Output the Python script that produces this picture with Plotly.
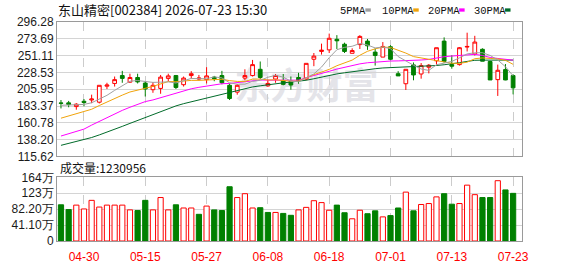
import plotly.graph_objects as go

dates = ["04-27","04-28","04-29","04-30","05-06","05-07","05-08","05-11","05-12","05-13",
         "05-14","05-15","05-18","05-19","05-20","05-21","05-22","05-25","05-26","05-27",
         "05-28","05-29","06-01","06-02","06-03","06-04","06-05","06-08","06-09","06-10",
         "06-11","06-12","06-15","06-16","06-17","06-18","06-22","06-23","06-24","06-25",
         "06-26","06-29","06-30","07-01","07-02","07-03","07-06","07-07","07-08","07-09",
         "07-10","07-13","07-14","07-15","07-16","07-17","07-20","07-21","07-22","07-23"]

opens = [187.5,187.6,182.6,189.7,191.4,188.5,210.0,213.7,224.3,215.4,
         221.7,214.2,205.3,207.0,220.5,224.3,212.0,224.3,219.6,218.8,
         222.2,224.3,211.2,202.0,220.9,224.3,232.7,210.4,219.6,217.5,
         216.7,221.7,219.6,246.2,256.7,258.8,273.0,266.4,254.2,265.9,
         270.6,255.8,249.1,263.0,226.8,213.3,238.6,226.4,235.5,244.1,
         270.6,239.0,239.0,262.6,253.3,259.6,243.2,218.8,232.3,224.3]
highs = [191.4,190.2,187.2,192.7,198.6,211.2,214.6,223.0,230.6,226.8,
         226.8,216.7,215.4,225.1,226.8,225.1,223.0,230.2,225.1,235.6,
         223.8,230.6,213.7,212.9,232.7,245.3,243.2,218.8,226.4,226.4,
         223.0,228.0,240.7,254.6,267.2,280.7,278.6,268.5,260.9,278.6,
         273.5,260.9,269.3,265.1,230.2,232.7,241.9,241.1,239.8,261.7,
         275.6,251.6,262.6,281.9,277.7,260.9,244.1,239.0,239.8,226.0]
lows = [180.1,181.7,178.4,183.0,187.2,186.8,206.2,209.5,214.6,214.6,
        213.7,196.1,201.1,199.8,216.7,206.2,209.5,220.1,217.5,213.7,
        216.7,212.5,191.4,198.6,217.9,223.0,219.6,209.1,214.6,211.2,
        205.3,213.3,217.9,236.9,252.5,254.6,260.0,254.6,254.2,260.0,
        258.8,237.7,249.1,244.9,223.8,204.9,217.9,220.1,227.2,239.0,
        241.5,233.5,237.7,256.7,251.2,243.6,218.4,196.9,218.0,199.0]
closes = [187.0,185.5,185.8,188.0,192.7,211.2,211.6,218.8,220.5,221.7,
          215.8,206.2,211.2,222.2,223.8,208.3,220.9,226.8,220.9,223.8,
          220.1,214.6,193.5,211.2,224.3,239.0,221.7,213.7,224.3,212.5,
          211.6,217.5,240.7,250.4,258.4,274.4,271.0,256.7,257.9,276.9,
          264.3,251.2,263.4,246.2,223.8,232.7,225.1,237.7,238.2,261.7,
          243.2,236.9,261.7,263.4,269.3,243.6,218.4,231.4,218.4,207.8]

# volume, in 万
volumes = [93.5,81.2,92.7,82.8,105.0,87.7,92.7,92.7,92.7,80.4,
           78.7,105.0,80.4,112.3,80.4,93.5,85.3,85.3,68.9,90.2,
           80.4,78.7,140.2,112.3,122.2,85.3,86.1,73.8,73.8,71.3,
           66.4,80.4,86.9,104.1,99.2,79.5,92.7,73.0,57.4,79.5,
           70.5,77.9,62.3,65.6,85.3,126.3,77.9,94.3,96.8,114.0,
           122.2,95.1,96.8,144.3,119.7,112.3,112.3,155.8,132.0,123.1]

ma5 = [184.3,184.7,185.1,185.5,187.7,192.6,197.7,204.4,210.9,216.7,
       217.6,216.6,215.1,215.4,215.8,214.3,217.3,220.4,220.1,220.1,
       222.5,221.2,214.6,212.6,212.7,216.5,217.9,222.0,224.6,222.2,
       216.8,215.9,221.3,226.5,235.7,248.3,259.0,262.2,263.7,267.4,
       265.4,261.4,262.7,260.4,249.8,243.5,238.2,233.1,231.2,238.8,
       240.9,243.3,248.1,253.4,254.9,255.0,251.3,245.2,236.2,223.9]
ma10 = [167.0,170.0,173.0,176.0,179.0,184.0,189.0,194.0,198.0,202.2,
        205.1,207.2,209.8,213.2,216.3,216.0,217.0,217.8,217.8,218.0,
        218.4,219.3,217.5,216.4,216.4,219.5,219.6,218.3,218.6,217.5,
        216.7,216.9,221.7,225.6,229.0,232.6,237.5,241.8,245.1,251.6,
        256.9,260.2,262.5,262.1,258.6,254.5,249.8,247.9,245.8,244.3,
        242.2,240.8,240.6,242.3,246.9,248.0,247.3,246.7,244.8,239.4]
ma20 = [143.0,146.0,149.3,152.3,157.7,162.8,168.3,173.3,177.5,181.7,
        185.9,189.3,191.5,194.5,198.0,201.5,204.0,206.5,208.5,210.1,
        211.8,213.3,213.7,214.8,216.4,217.8,218.3,218.1,218.2,217.8,
        217.6,218.1,221.5,224.0,227.0,230.0,233.0,235.5,238.0,240.0,
        241.5,242.5,243.2,243.8,244.0,244.2,244.5,245.2,246.0,248.0,
        249.6,250.5,251.6,252.2,252.8,251.3,248.6,247.3,245.8,245.0]
ma30 = [130.5,133.0,135.5,138.0,141.0,144.5,148.0,152.0,156.0,160.0,
        164.0,168.0,172.0,176.0,180.0,183.5,186.5,189.0,191.5,194.0,
        197.0,200.0,202.5,205.0,207.0,209.0,210.5,212.0,213.5,214.5,
        215.5,216.5,218.0,220.0,222.5,224.5,226.5,228.0,229.5,231.0,
        232.5,233.5,234.5,235.0,235.0,235.2,235.5,236.0,236.5,237.8,
        238.8,239.8,241.6,243.3,244.8,245.0,245.0,245.5,245.2,245.1]

price_ticks = [115.62,138.20,160.78,183.37,205.95,228.53,251.11,273.69,296.28]
vol_ticks = [0,41.1,82.2,123.3,164.4]
vol_tick_text = ["0","41.10万","82.20万","123万","164万"]
date_ticks = ["04-30","05-15","05-27","06-08","06-18","07-01","07-13","07-23"]
ma_names = ["5PMA","10PMA","20PMA","30PMA"]
ma_colors = ["#a0a0a0","#f0a30a","#ff00ff","#006b2a"]

title_text = "东山精密[002384] 2026-07-23 15:30"
vol_label = "成交量:1230956"

RED = "#ff0000"
GREEN = "#008000"

W, H = 578, 276
ML, MR, MT, MB = 56, 56, 22, 21
PW, PH = W - ML - MR, H - MT - MB


def px(xp):
    return (xp - ML) / PW


def py(yp):
    return (H - MB - yp) / PH


fig = go.Figure()

for name, ma, col in zip(ma_names[::-1], [ma30, ma20, ma10, ma5], ma_colors[::-1]):
    fig.add_trace(go.Scatter(x=dates, y=ma, mode="lines", line=dict(color=col, width=1),
                             name=name, xaxis="x", yaxis="y", hoverinfo="skip"))

fig.add_trace(go.Candlestick(
    x=dates, open=opens, high=highs, low=lows, close=closes,
    increasing=dict(line=dict(color=RED, width=1), fillcolor="#ffffff"),
    decreasing=dict(line=dict(color=GREEN, width=1), fillcolor=GREEN),
    whiskerwidth=0, xaxis="x", yaxis="y", name="K"))

fill_cols, line_cols = [], []
for i, c in enumerate(closes):
    ref = closes[i - 1] if i > 0 else opens[0]
    up = c >= ref
    fill_cols.append("#ffffff" if up else GREEN)
    line_cols.append(RED if up else GREEN)

fig.add_trace(go.Bar(x=dates, y=volumes, width=0.68,
                     marker=dict(color=fill_cols, line=dict(color=line_cols, width=1)),
                     xaxis="x2", yaxis="y2", name="VOL"))

grid_col = "#d4d4d4"
border_col = "#9a9a9a"
tick_font = dict(family="Liberation Sans, Arial", size=12, color="#1a1a1a")

common_x = dict(type="category", range=[-0.52, 60.16], tickmode="array", tickvals=date_ticks,
                showgrid=True, gridcolor="#cccccc", griddash="dash", gridwidth=1,
                showline=True, mirror=True, linecolor=border_col, linewidth=1,
                ticks="", zeroline=False, fixedrange=True)

fig.update_layout(
    width=W, height=H,
    margin=dict(l=ML, r=MR, t=MT, b=MB, pad=0),
    paper_bgcolor="#ffffff", plot_bgcolor="#ffffff",
    showlegend=False,
    xaxis=dict(anchor="y", domain=[0, 1], showticklabels=False,
               rangeslider=dict(visible=False), **common_x),
    xaxis2=dict(anchor="y2", domain=[0, 1], matches="x", showticklabels=True,
                ticklabelstandoff=5,
                tickfont=dict(family="Liberation Sans, Arial", size=12, color=RED), **common_x),
    yaxis=dict(domain=[py(165), 1], range=[price_ticks[0], price_ticks[-1]],
               tickmode="array", tickvals=price_ticks,
               ticktext=[f"{v:.2f}" for v in price_ticks],
               showgrid=True, gridcolor=grid_col, showline=True, mirror=True,
               linecolor=border_col, zeroline=False, ticks="", tickfont=tick_font),
    yaxis2=dict(domain=[0, py(187.3)], range=[0, vol_ticks[-1]],
                tickmode="array", tickvals=vol_ticks, ticktext=vol_tick_text,
                showgrid=True, gridcolor=grid_col, showline=True, mirror=True,
                linecolor=border_col, zeroline=False, ticks="", tickfont=tick_font),
)

# watermark (drawn under the data)
fig.add_shape(type="rect", xref="paper", yref="paper",
              x0=px(222), x1=px(390), y0=py(112), y1=py(74),
              line=dict(width=0), fillcolor="rgba(0,0,0,0)", layer="below",
              label=dict(text="东方财富", textposition="middle center",
                         font=dict(family="Noto Sans CJK SC", size=36, color="#e4e4e9",
                                   weight="bold")))

annotations = [
    dict(text=title_text, x=px(55), y=py(9), xanchor="left", yanchor="middle",
         font=dict(family="Noto Sans CJK SC", size=13, color="#111111")),
    dict(text=vol_label, x=px(57), y=py(176.5), xanchor="left", yanchor="middle",
         font=dict(family="Noto Sans CJK SC", size=12, color="#111111")),
]
legend_text_x = [338, 380, 426, 472]
legend_sq_x = [365, 413, 459, 505]
for name, col, tx, sx in zip(ma_names, ma_colors, legend_text_x, legend_sq_x):
    annotations.append(dict(text=name, x=px(tx), y=py(10), xanchor="left", yanchor="middle",
                            font=dict(family="Liberation Mono, DejaVu Sans Mono", size=10.5,
                                      color="#111111")))
    fig.add_shape(type="rect", xref="paper", yref="paper",
                  x0=px(sx), x1=px(sx + 5.5), y0=py(11), y1=py(7.5),
                  line=dict(width=0), fillcolor=col)

for a in annotations:
    a.update(xref="paper", yref="paper", showarrow=False)
fig.update_layout(annotations=annotations)

fig.write_html("out.html")
